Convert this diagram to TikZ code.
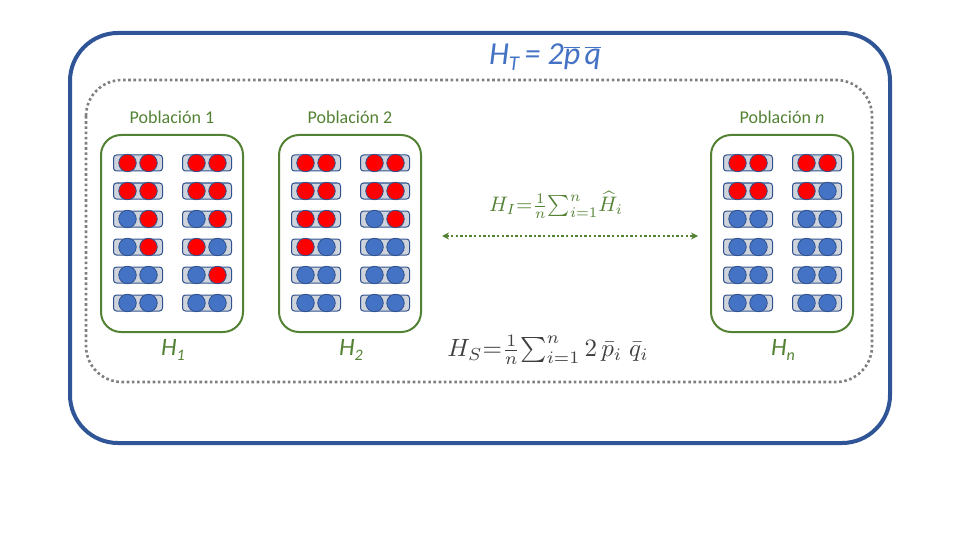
\documentclass[tikz,border=0pt]{standalone}
\usepackage{fontspec}
\usepackage{graphicx}
\setmainfont{Carlito}
\usetikzlibrary{arrows.meta,calc}
\definecolor{outerblue}{HTML}{2F5597}
\definecolor{titleblue}{HTML}{4472C4}
\definecolor{popgreen}{HTML}{548235}
\definecolor{dotgray}{HTML}{7F7F7F}
\definecolor{pillgray}{HTML}{CFD3DC}
\definecolor{edgeblue}{HTML}{2F528F}
\definecolor{alleleR}{HTML}{FF0000}
\definecolor{alleleB}{HTML}{4472C4}
\definecolor{formgray}{HTML}{404040}
\tikzset{
  outerbox/.style={draw=outerblue, line width=4pt, rounded corners=48pt},
  dotbox/.style={draw=dotgray, line width=2.6pt, dash pattern=on 2.6pt off 2.6pt, rounded corners=36pt},
  popbox/.style={draw=popgreen, line width=2pt, rounded corners=20pt, minimum width=142pt, minimum height=197pt, inner sep=0pt},
  poplabel/.style={text=popgreen, font=\fontsize{18}{21}\selectfont, inner sep=0pt},
  hlabel/.style={text=popgreen, font=\fontsize{25}{28}\selectfont\itshape, inner sep=0pt},
  pillbox/.style={draw=edgeblue, line width=1pt, fill=pillgray, rounded corners=3pt, minimum width=49pt, minimum height=16pt, inner sep=0pt},
  allele/.style={circle, draw=edgeblue, line width=0.8pt, minimum size=17.5pt, inner sep=0pt},
  R/.style={allele, fill=alleleR},
  B/.style={allele, fill=alleleB},
}
% pill: name, x, y, left colour style, right colour style
\newcommand\pillpair[5]{%
  \node[pillbox] (#1) at (#2,#3) {};
  \node[#4] (#1a) at ($(#1)+(-10.5,0)$) {};
  \node[#5] (#1b) at ($(#1)+(10.5,0)$) {};
}
\begin{document}
\begin{tikzpicture}[x=1pt,y=-1pt]
\useasboundingbox (0,0) rectangle (960,540);
\draw[outerbox] (70,33) rectangle (890,443);
\draw[dotbox] (86,80) rectangle (872,382);

\node[text=titleblue, font=\fontsize{32}{35}\selectfont\itshape, inner sep=0pt] (HT) at (545,57)
  {H\raisebox{-0.4ex}{\fontsize{21}{22}\selectfont T}\,= 2$\overline{\hbox{\itshape p}}\,\overline{\hbox{\itshape q}}$};

% population boxes
\node[popbox] (P1) at (172,233.5) {};
\node[popbox] (P2) at (350,233.5) {};
\node[popbox] (Pn) at (782,233.5) {};
\node[poplabel] (L1) at (172,117) {Población 1};
\node[poplabel] (L2) at (350,117) {Población 2};
\node[poplabel] (Ln) at (782,117) {Población \textit{n}};
\node[hlabel] (H1) at (173,350) {H\raisebox{-0.4ex}{\fontsize{16}{17}\selectfont 1}};
\node[hlabel] (H2) at (351,350) {H\raisebox{-0.4ex}{\fontsize{16}{17}\selectfont 2}};
\node[hlabel] (Hn) at (783,350) {H\raisebox{-0.4ex}{\fontsize{16}{17}\selectfont n}};

% population 1
\pillpair{a1}{138}{163}{R}{R} \pillpair{b1}{207}{163}{R}{R}
\pillpair{a2}{138}{191}{R}{R} \pillpair{b2}{207}{191}{R}{R}
\pillpair{a3}{138}{219}{B}{R} \pillpair{b3}{207}{219}{B}{R}
\pillpair{a4}{138}{247}{B}{R} \pillpair{b4}{207}{247}{R}{B}
\pillpair{a5}{138}{275}{B}{B} \pillpair{b5}{207}{275}{B}{R}
\pillpair{a6}{138}{303}{B}{B} \pillpair{b6}{207}{303}{B}{B}
% population 2
\pillpair{c1}{316}{163}{R}{R} \pillpair{d1}{385}{163}{R}{R}
\pillpair{c2}{316}{191}{R}{R} \pillpair{d2}{385}{191}{R}{R}
\pillpair{c3}{316}{219}{R}{R} \pillpair{d3}{385}{219}{B}{R}
\pillpair{c4}{316}{247}{R}{B} \pillpair{d4}{385}{247}{B}{B}
\pillpair{c5}{316}{275}{B}{B} \pillpair{d5}{385}{275}{B}{B}
\pillpair{c6}{316}{303}{B}{B} \pillpair{d6}{385}{303}{B}{B}
% population n
\pillpair{e1}{748}{163}{R}{R} \pillpair{f1}{817}{163}{R}{R}
\pillpair{e2}{748}{191}{R}{R} \pillpair{f2}{817}{191}{R}{B}
\pillpair{e3}{748}{219}{B}{B} \pillpair{f3}{817}{219}{B}{B}
\pillpair{e4}{748}{247}{B}{B} \pillpair{f4}{817}{247}{B}{B}
\pillpair{e5}{748}{275}{B}{B} \pillpair{f5}{817}{275}{B}{B}
\pillpair{e6}{748}{303}{B}{B} \pillpair{f6}{817}{303}{B}{B}

% H_I formula and arrow
\node[text=popgreen, inner sep=0pt] (HI) at (556,205)
  {\scalebox{2.1}{$\textstyle H_I{=}\frac{1}{n}\mathord{\sum}_{i=1}^{n}\widehat{H}_i$}};
\coordinate (AL) at (442,236);
\coordinate (AR) at (698,236);
\draw[popgreen, line width=2.4pt, dash pattern=on 2.4pt off 2.2pt,
  {Stealth[length=7pt,width=7pt]}-{Stealth[length=7pt,width=7pt]}] (AL) -- (AR);

% H_S formula
\node[text=formgray, inner sep=0pt] (HS) at (548,350)
  {\scalebox{2.5}{$\textstyle H_S{=}\frac{1}{n}\mathord{\sum}_{i=1}^{n}\,2\,\bar{p}_i\;\bar{q}_i$}};
\end{tikzpicture}
\end{document}
